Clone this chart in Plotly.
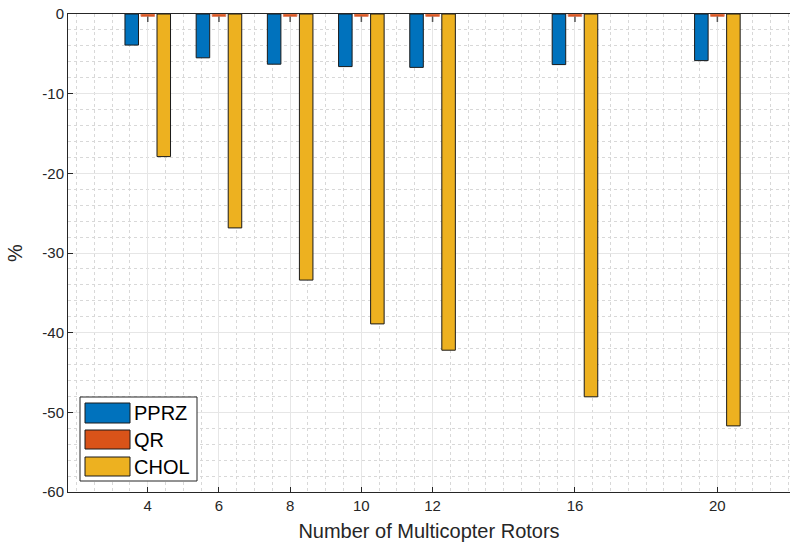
import plotly.graph_objects as go

# Relative change (%) per rotor count for each allocation method
rotors = [4, 6, 8, 10, 12, 16, 20]
pprz = [-3.9, -5.5, -6.3, -6.6, -6.7, -6.35, -5.85]
qr = [-0.3, -0.3, -0.3, -0.3, -0.3, -0.3, -0.3]
qr_spread = [0.7, 0.7, 0.7, 0.7, 0.7, 0.7, 0.7]
chol = [-17.9, -26.85, -33.4, -38.9, -42.2, -48.05, -51.7]
y_ticks = [0, -10, -20, -30, -40, -50, -60]

series_names = ["PPRZ", "QR", "CHOL"]
colors = ["#0072BD", "#D95319", "#EDB120"]

FONT = "Liberation Sans, Arial, sans-serif"
TXT = "#262626"
BAR_W = 0.38
offsets = [-0.64, -0.19, 0.26]

fig = go.Figure()
for name, vals, col, off in zip(series_names, [pprz, qr, chol], colors, offsets):
    kw = {}
    line_col = "#1a1a1a"
    if name == "QR":
        line_col = "#e08060"
        kw["error_y"] = dict(type="data", symmetric=False, array=[0] * len(vals),
                             arrayminus=qr_spread, color="#555555",
                             thickness=1.5, width=0)
    fig.add_trace(go.Bar(
        x=rotors, y=vals, name=name, width=BAR_W, offset=off,
        marker=dict(color=col, line=dict(color=line_col, width=1)),
        showlegend=False, **kw))

# Legend box drawn in paper coordinates
W, H = 790, 542
ml, mr, mt, mb = 68, 0, 14, 50
pw, ph = W - ml - mr, H - mt - mb


def px(x):
    return (x - ml) / pw


def py(y):
    return 1 - (y - mt) / ph


shapes = [dict(type="rect", xref="paper", yref="paper",
               x0=px(80), x1=px(197), y0=py(481), y1=py(397),
               fillcolor="white", line=dict(color="#262626", width=1), layer="above")]
annotations = []
rows = [(403, 423), (430, 449), (457, 476)]
for (t, b), name, col in zip(rows, series_names, colors):
    shapes.append(dict(type="rect", xref="paper", yref="paper",
                       x0=px(85), x1=px(130), y0=py(b), y1=py(t),
                       fillcolor=col, line=dict(color="#1a1a1a", width=1), layer="above"))
    annotations.append(dict(xref="paper", yref="paper", x=px(132), y=py((t + b) / 2),
                            text=name, showarrow=False, xanchor="left", yanchor="middle",
                            font=dict(family=FONT, size=20, color="black")))

fig.update_layout(
    width=W, height=H,
    margin=dict(l=ml, r=mr, t=mt, b=mb),
    plot_bgcolor="white", paper_bgcolor="white",
    barmode="overlay",
    shapes=shapes, annotations=annotations,
    font=dict(family=FONT, color=TXT, size=14),
)
fig.update_xaxes(
    range=[1.76, 22.04], tickvals=rotors, ticktext=[str(r) for r in rotors],
    showline=True, linecolor=TXT, linewidth=1, mirror=True,
    ticks="inside", ticklen=5, tickcolor=TXT,
    showgrid=True, gridcolor="#e6e6e6", gridwidth=1,
    minor=dict(dtick=0.5, tick0=0, showgrid=True, gridcolor="#d8d8d8",
               griddash="dot", ticks=""),
    zeroline=False,
    title=dict(text="Number of Multicopter Rotors", font=dict(size=20, color=TXT), standoff=10),
    tickfont=dict(size=15, color=TXT),
)
fig.update_yaxes(
    range=[-60, 0], tickvals=y_ticks, ticktext=[str(v) for v in y_ticks],
    showline=True, linecolor=TXT, linewidth=1,
    ticks="inside", ticklen=5, tickcolor=TXT,
    showgrid=True, gridcolor="#e6e6e6", gridwidth=1,
    minor=dict(dtick=2, tick0=0, showgrid=True, gridcolor="#d8d8d8",
               griddash="dot", ticks=""),
    zeroline=False,
    title=dict(text="%", font=dict(size=20, color=TXT), standoff=14),
    tickfont=dict(size=15, color=TXT),
)

fig.write_html("out.html")
